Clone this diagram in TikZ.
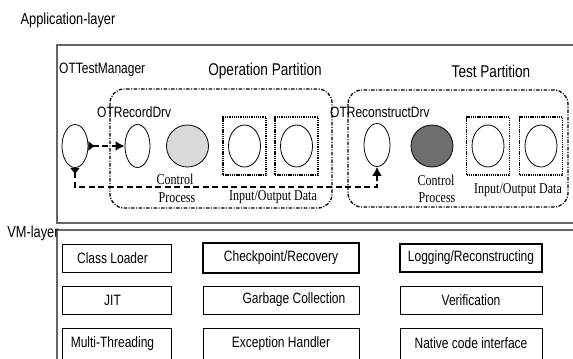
\documentclass[tikz,border=0pt]{standalone}
\usepackage{fontspec}
\setmainfont{Liberation Sans}[FakeStretch=0.8]
\newfontfamily\serifnarrow{Liberation Serif}[FakeStretch=0.8]
\usetikzlibrary{shapes.geometric,arrows.meta}
\begin{document}
\begin{tikzpicture}[x=1bp,y=-1bp,
  sans/.style={font=\fontsize{15bp}{17bp}\selectfont, inner sep=0pt},
  titletext/.style={font=\fontsize{17bp}{19bp}\selectfont, inner sep=0pt},
  layertext/.style={font=\fontsize{16bp}{18bp}\selectfont, inner sep=0pt},
  seriftext/.style={font=\serifnarrow\fontsize{15bp}{17bp}\selectfont, inner sep=0pt},
  ell/.style={ellipse, draw, line width=0.8bp, minimum width=26bp, minimum height=43bp, inner sep=0pt, fill=white},
  proc/.style={circle, draw, line width=0.8bp, minimum size=42bp, inner sep=0pt},
  databox/.style={rectangle, draw, dash pattern=on 1.3bp off 0.9bp, line width=1.1bp, minimum width=43bp, minimum height=58bp, inner sep=0pt},
  dataell/.style={ellipse, draw, line width=0.8bp, minimum width=32bp, minimum height=42bp, inner sep=0pt},
  partition/.style={draw, line width=1.3bp, rounded corners=14bp, dash pattern=on 3.5bp off 1.5bp on 1bp off 1.5bp},
  vmbox/.style={rectangle, draw, line width=0.7bp, inner sep=0pt, font=\fontsize{15bp}{17bp}\selectfont},
  vmthick/.style={vmbox, line width=1.8bp},
  flow/.style={line width=2.4bp, dash pattern=on 6bp off 3.5bp, {Triangle[reversed,length=6bp,width=9bp]}-{Latex[length=9bp,width=10bp]}},
  frame/.style={draw=black!60, line width=1.2bp}
]
\useasboundingbox (0,0) rectangle (573,358);

% layer frames
\draw[frame] (580,45) -- (57,45) -- (57,223) -- (580,223);
\draw[frame] (57,362) -- (57,230) -- (580,230);

% partitions
\draw[partition] (110,89) rectangle (332,208);
\draw[partition] (348,90) rectangle (568,207);

% labels
\node[layertext] (appl) at (68,20) {Application-layer};
\node[layertext] (vml) at (33,233) {VM-layer};
\node[sans, anchor=west] (mgrlbl) at (59,70) {OTTestManager};
\node[titletext] (optitle) at (265,71) {Operation Partition};
\node[titletext] (testtitle) at (491,71) {Test Partition};
\node[sans, anchor=west] (reclbl) at (97,112) {OTRecordDrv};
\node[sans, anchor=west] (reconlbl) at (330,112) {OTReconstructDrv};

% processes
\node[ell] (mgr) at (75,146) {};
\node[ell, minimum width=25bp] (rec) at (137.5,146) {};
\node[ell] (recon) at (377,145) {};
\node[proc, fill=black!15] (ctl1) at (187.5,146) {};
\node[proc, fill=black!57] (ctl2) at (432,146) {};

% data boxes
\node[databox] (d1) at (244.5,146) {};
\node[dataell] (d1e) at (d1) {};
\node[databox] (d2) at (296.5,146) {};
\node[dataell] (d2e) at (d2) {};
\node[databox] (d3) at (488,146) {};
\node[dataell] (d3e) at (d3) {};
\node[databox] (d4) at (541,146) {};
\node[dataell] (d4e) at (d4) {};

% serif captions
\node[seriftext] (c1a) at (175,179) {Control};
\node[seriftext] (c1b) at (177,198) {Process};
\node[seriftext] (io1) at (273,197) {Input/Output Data};
\node[seriftext] (c2a) at (436,180) {Control};
\node[seriftext] (c2b) at (437,198) {Process};
\node[seriftext] (io2) at (518,190) {Input/Output Data};

% connectors
\coordinate (low) at (0,187);
\draw[flow] (mgr.east) -- (rec.west);
\draw[flow] (mgr.south) -- (mgr.south |- low) -| (recon.south);

% VM layer boxes
\node[vmbox, minimum width=109bp, minimum height=28bp] (cl) at (116.5,258) {\hspace*{-8bp}\raisebox{-2bp}{Class Loader}};
\node[vmthick, minimum width=156bp, minimum height=30bp] (cp) at (281,258) {\raisebox{3bp}{Checkpoint/Recovery}};
\node[vmthick, minimum width=142bp, minimum height=28bp] (lr) at (471,258) {\raisebox{-2bp}{Logging/Reconstructing}};
\node[vmbox, minimum width=109bp, minimum height=28bp] (jit) at (116.5,300) {\hspace*{-8bp}\raisebox{-3bp}{JIT}};
\node[vmbox, minimum width=156bp, minimum height=28bp] (gc) at (281,300) {\hspace*{26bp}\raisebox{-3bp}{Garbage Collection}};
\node[vmbox, minimum width=142bp, minimum height=28bp] (ver) at (471,300) {\raisebox{-3bp}{Verification}};
\node[vmbox, minimum width=109bp, minimum height=32bp] (mt) at (116.5,344) {\hspace*{-8bp}\raisebox{1bp}{Multi-Threading}};
\node[vmbox, minimum width=156bp, minimum height=32bp] (eh) at (281,344) {\raisebox{2bp}{Exception Handler}};
\node[vmbox, minimum width=142bp, minimum height=32bp] (nci) at (471,344) {\raisebox{1bp}{Native code interface}};
\end{tikzpicture}
\end{document}
